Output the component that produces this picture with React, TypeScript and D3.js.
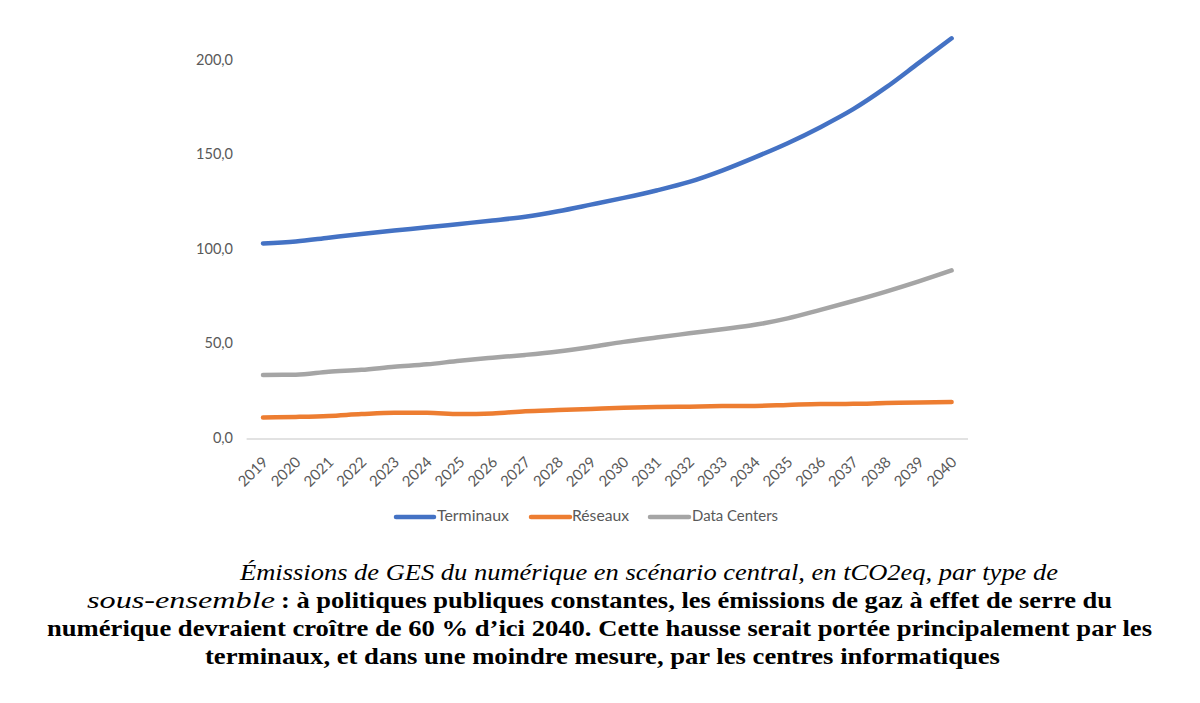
import React from "react";
import * as d3 from "d3";

const years = ["2019","2020","2021","2022","2023","2024","2025","2026","2027","2028","2029","2030","2031","2032","2033","2034","2035","2036","2037","2038","2039","2040"];
const terminaux = [103.5,104.5,106.5,108.5,110.3,112,113.8,115.6,117.6,120.5,124,127.6,131.5,136,142,149,156.5,165,174.5,186,199,212];
const reseaux = [11.4,11.7,12.2,13.2,13.9,13.9,13.2,13.5,14.7,15.3,15.9,16.5,16.9,17.1,17.4,17.5,18,18.5,18.6,19,19.3,19.6];
const dataCenters = [33.9,34,35.6,36.6,38.2,39.5,41.4,43,44.5,46.3,48.7,51.4,53.7,55.9,58.1,60.4,63.8,68.3,73,78,83.4,89.2];
const yTicks = [0, 50, 100, 150, 200];
const seriesNames = ["Terminaux", "Réseaux", "Data Centers"];
const seriesColors = ["#4472C4", "#ED7D31", "#A5A5A5"];

const W = 1200, H = 703;

export default function App() {
  const x = d3.scalePoint<string>().domain(years).range([246.6, 968]).padding(0.5);
  const y = d3.scaleLinear().domain([0, 200]).range([439, 61]);
  const line = d3.line<number>()
    .x((_, i) => x(years[i]) as number)
    .y((d) => y(d))
    .curve(d3.curveMonotoneX);
  const allSeries = [terminaux, reseaux, dataCenters];
  const fmt = (v: number) => v.toFixed(1).replace(".", ",");
  const axisFont = "Lato, 'Open Sans', sans-serif";
  const legendItems = [
    { x0: 396, x1: 434, tx: 437, w: 72 },
    { x0: 531, x1: 570, tx: 572, w: 57 },
    { x0: 650, x1: 689, tx: 692, w: 86 },
  ];
  const serif = "'Liberation Serif', 'Times New Roman', serif";
  const fs = 24;
  return (
    <svg width={W} height={H} style={{ position: "absolute", left: 0, top: 0, background: "#fff" }}>
      <rect x={0} y={0} width={W} height={H} fill="#fff" />
      {yTicks.map((t) => (
        <text key={t} x={233} y={y(t)} textAnchor="end" dominantBaseline="middle"
          fontFamily={axisFont} fontSize={14.5} fill="#595959">{fmt(t)}</text>
      ))}
      <line x1={246.6} x2={968} y1={y(0)} y2={y(0)} stroke="#d9d9d9" strokeWidth={1.3} />
      {years.map((yr) => {
        const cx = (x(yr) as number) + 6;
        const cy = 463;
        return (
          <text key={yr} x={cx} y={cy} textAnchor="end" transform={`rotate(-45 ${cx} ${cy})`}
            fontFamily={axisFont} fontSize={15} fill="#595959">{yr}</text>
        );
      })}
      {allSeries.map((s, i) => (
        <path key={i} d={line(s) || ""} fill="none" stroke={seriesColors[i]} strokeWidth={4.5}
          strokeLinecap="round" strokeLinejoin="round" />
      ))}
      {legendItems.map((l, i) => (
        <g key={i}>
          <line x1={l.x0} x2={l.x1} y1={517} y2={517} stroke={seriesColors[i]} strokeWidth={4.5} strokeLinecap="round" />
          <text x={l.tx} y={517} dominantBaseline="middle" fontFamily={axisFont} fontSize={15.5} fill="#595959"
            textLength={l.w} lengthAdjust="spacingAndGlyphs">{seriesNames[i]}</text>
        </g>
      ))}
      <text x={240} y={580} fontFamily={serif} fontStyle="italic" fontSize={fs} fill="#000"
        textLength={818} lengthAdjust="spacingAndGlyphs">Émissions de GES du numérique en scénario central, en tCO2eq, par type de</text>
      <text x={87} y={608} fontFamily={serif} fontStyle="italic" fontSize={fs} fill="#000"
        textLength={188} lengthAdjust="spacingAndGlyphs">sous-ensemble</text>
      <text x={281} y={608} fontFamily={serif} fontWeight="bold" fontSize={fs} fill="#000"
        textLength={831} lengthAdjust="spacingAndGlyphs">: à politiques publiques constantes, les émissions de gaz à effet de serre du</text>
      <text x={47} y={636} fontFamily={serif} fontWeight="bold" fontSize={fs} fill="#000"
        textLength={1105} lengthAdjust="spacingAndGlyphs">numérique devraient croître de 60 % d’ici 2040. Cette hausse serait portée principalement par les</text>
      <text x={205} y={664} fontFamily={serif} fontWeight="bold" fontSize={fs} fill="#000"
        textLength={795} lengthAdjust="spacingAndGlyphs">terminaux, et dans une moindre mesure, par les centres informatiques</text>
    </svg>
  );
}
